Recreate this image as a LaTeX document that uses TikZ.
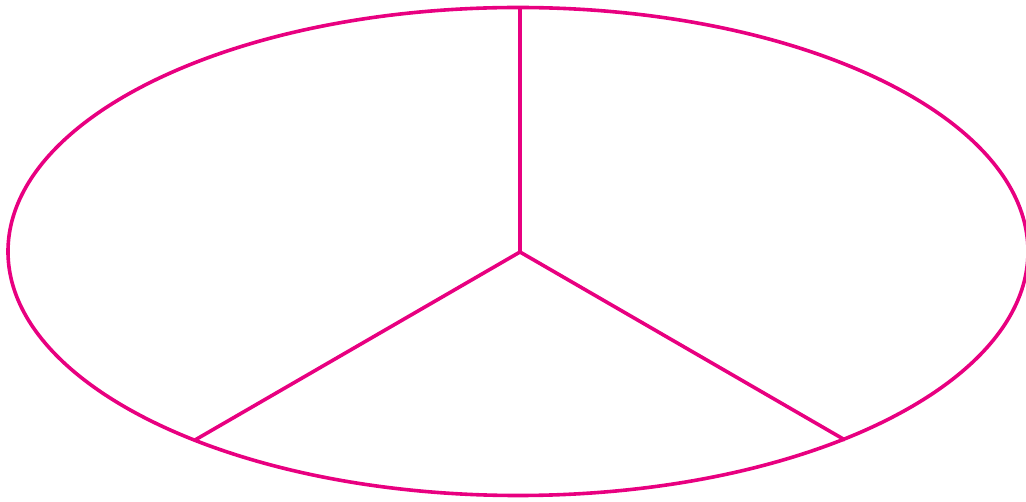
\documentclass[tikz,border=0pt]{standalone}
\definecolor{mag}{RGB}{232,0,128}
\begin{document}
\begin{tikzpicture}[x=1pt,y=-1pt,line width=3.6pt,every path/.style={draw=mag}]
\useasboundingbox[draw=none] (0,0) rectangle (1026,502);
\coordinate (c) at (520,252);
\coordinate (t) at (520,7.5);
\coordinate (l) at (195,440);
\coordinate (r) at (845,440);
\draw (518,251.5) ellipse [x radius=510, y radius=244];
\draw (t) -- (c);
\draw (c) -- (l);
\draw (c) -- (r);
\end{tikzpicture}
\end{document}
